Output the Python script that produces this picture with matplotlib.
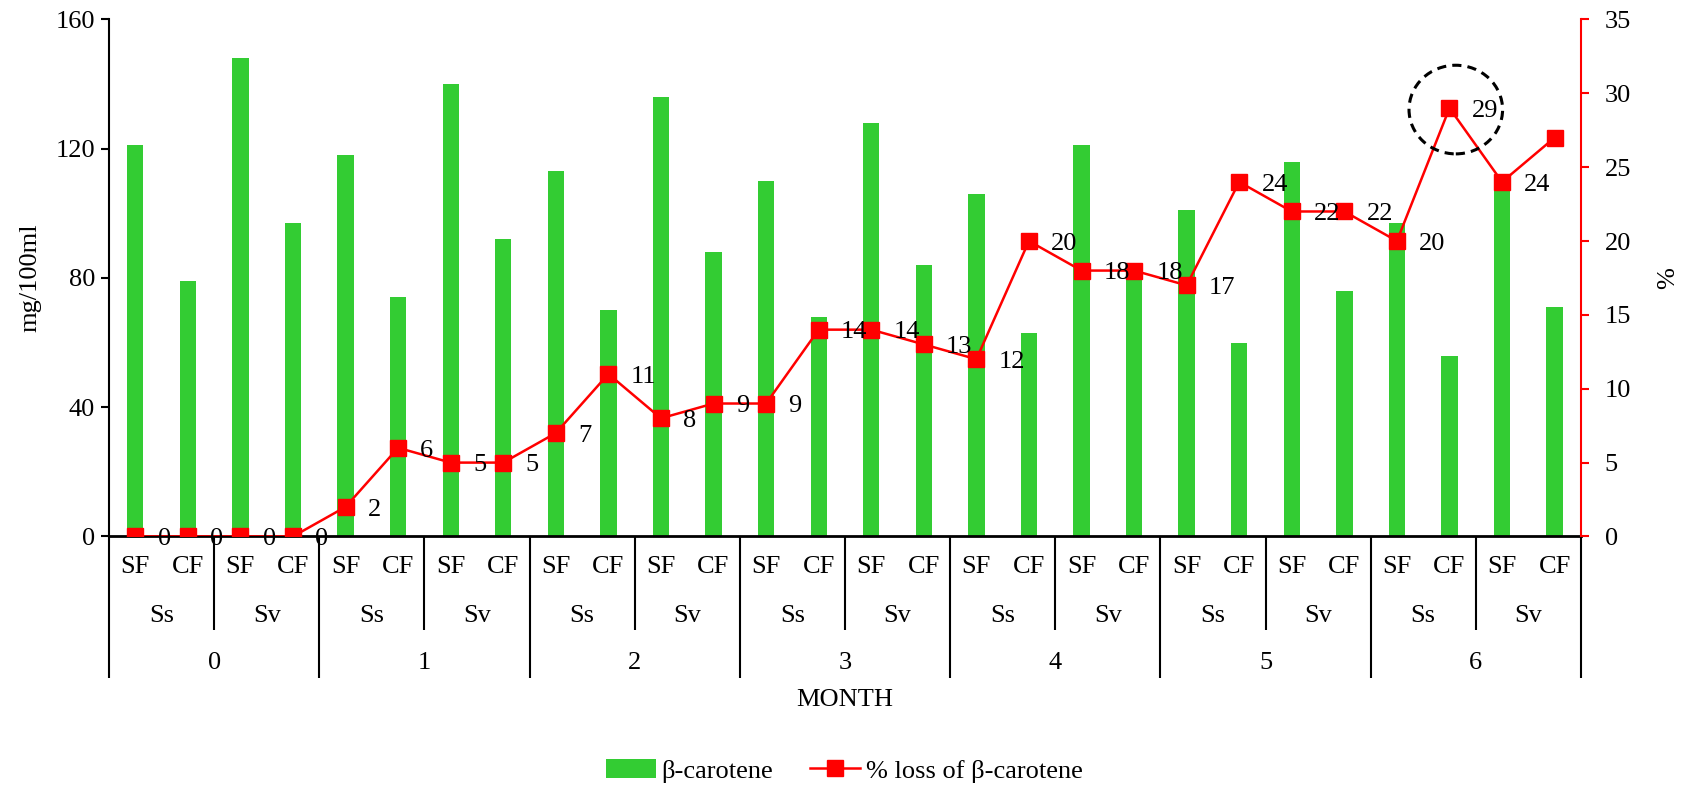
import matplotlib
matplotlib.use("Agg")
import matplotlib.pyplot as plt
from matplotlib.patches import Ellipse, Patch
from matplotlib.lines import Line2D

plt.rcParams["font.family"] = ["Liberation Serif", "DejaVu Serif"]
plt.rcParams["font.size"] = 19

# Storage months, varieties and fortification types
months = ["0", "1", "2", "3", "4", "5", "6"]
varieties = ["Ss", "Sv"]
treatments = ["SF", "CF"]

# β-carotene content (mg/100ml), in order month -> variety -> treatment
beta_carotene = [121, 79, 148, 97,
                 118, 74, 140, 92,
                 113, 70, 136, 88,
                 110, 68, 128, 84,
                 106, 63, 121, 84,
                 101, 60, 116, 76,
                 97, 56, 110, 71]

# Percentage loss of β-carotene
loss_pct = [0, 0, 0, 0,
            2, 6, 5, 5,
            7, 11, 8, 9,
            9, 14, 14, 13,
            12, 20, 18, 18,
            17, 24, 22, 22,
            20, 29, 24, 27]

GREEN = "#33CC33"
RED = "#FF0000"
FS = 19

fig = plt.figure(figsize=(16.82, 7.91), dpi=100)
ax = fig.add_axes([0.0648, 0.3218, 0.8751, 0.6536])
ax2 = ax.twinx()

n = len(beta_carotene)
x = list(range(n))

ax.bar(x, beta_carotene, width=0.31, color=GREEN, zorder=2)
ax.set_xlim(-0.5, n - 0.5)
ax.set_ylim(0, 160)
ax.set_yticks([0, 40, 80, 120, 160])
ax.set_xticks([])
ax.set_ylabel("mg/100ml")
ax.yaxis.set_label_coords(-0.046, 0.5)
ax.tick_params(axis="y", direction="out", length=6, width=1.5, pad=4)

for side in ("top", "right"):
    ax.spines[side].set_visible(False)
ax.spines["left"].set_linewidth(1.5)
ax.spines["bottom"].set_linewidth(2)

# Loss line on the secondary axis
ax2.plot(x, loss_pct, color=RED, lw=1.8, marker="s", markersize=11.5,
         markeredgecolor=RED, markerfacecolor=RED, zorder=3)
ax2.set_ylim(0, 35)
ax2.set_yticks(range(0, 36, 5))
ax2.set_ylabel("%")
ax2.yaxis.set_label_coords(1.0516, 0.5)
ax2.tick_params(axis="y", direction="out", length=6, width=1.5, color=RED, pad=11)
for side in ("top", "left", "bottom"):
    ax2.spines[side].set_visible(False)
ax2.spines["right"].set_color(RED)
ax2.spines["right"].set_linewidth(1.5)

# Value labels beside each point (the final point carries none)
for xi, v in zip(x[:-1], loss_pct[:-1]):
    ax2.annotate(str(v), (xi, v), xytext=(16, -2), textcoords="offset points",
                 ha="left", va="center", fontsize=FS, zorder=4)

# Highlight of the peak loss
ax2.add_patch(Ellipse((25.12, 28.9), width=1.78, height=6.0, fill=False,
                      edgecolor="black", lw=2.2, linestyle=(0, (3, 2)),
                      zorder=5, clip_on=False))

# Hierarchical category axis: treatment / variety / month
tr = ax.get_xaxis_transform()
y_tr, y_var, y_mon = -0.060, -0.1545, -0.245
y_short, y_long = -0.181, -0.273

for i in range(n):
    ax.text(i, y_tr, treatments[i % 2], transform=tr, ha="center", va="center")

n_pairs = n // 2
for k in range(n_pairs):
    ax.text(2 * k + 0.5, y_var, varieties[k % 2], transform=tr,
            ha="center", va="center")

for m, label in enumerate(months):
    ax.text(4 * m + 1.5, y_mon, label, transform=tr, ha="center", va="center")

for k in range(n_pairs + 1):
    xb = 2 * k - 0.5
    bottom = y_long if k % 2 == 0 else y_short
    ax.plot([xb, xb], [0, bottom], transform=tr, color="black", lw=1.5,
            clip_on=False, solid_capstyle="butt")

ax.text(0.5, -0.317, "MONTH", transform=ax.transAxes, ha="center", va="center")

handles = [Patch(facecolor=GREEN, edgecolor="none"),
           Line2D([0], [0], color=RED, lw=1.8, marker="s", markersize=11.5)]
fig.legend(handles, ["β-carotene", "% loss of β-carotene"],
           loc="center", bbox_to_anchor=(0.502, 0.0253), ncol=2, frameon=False,
           handlelength=1.9, handletextpad=0.2, columnspacing=1.4, fontsize=FS)

fig.savefig("out.png", dpi=100)
